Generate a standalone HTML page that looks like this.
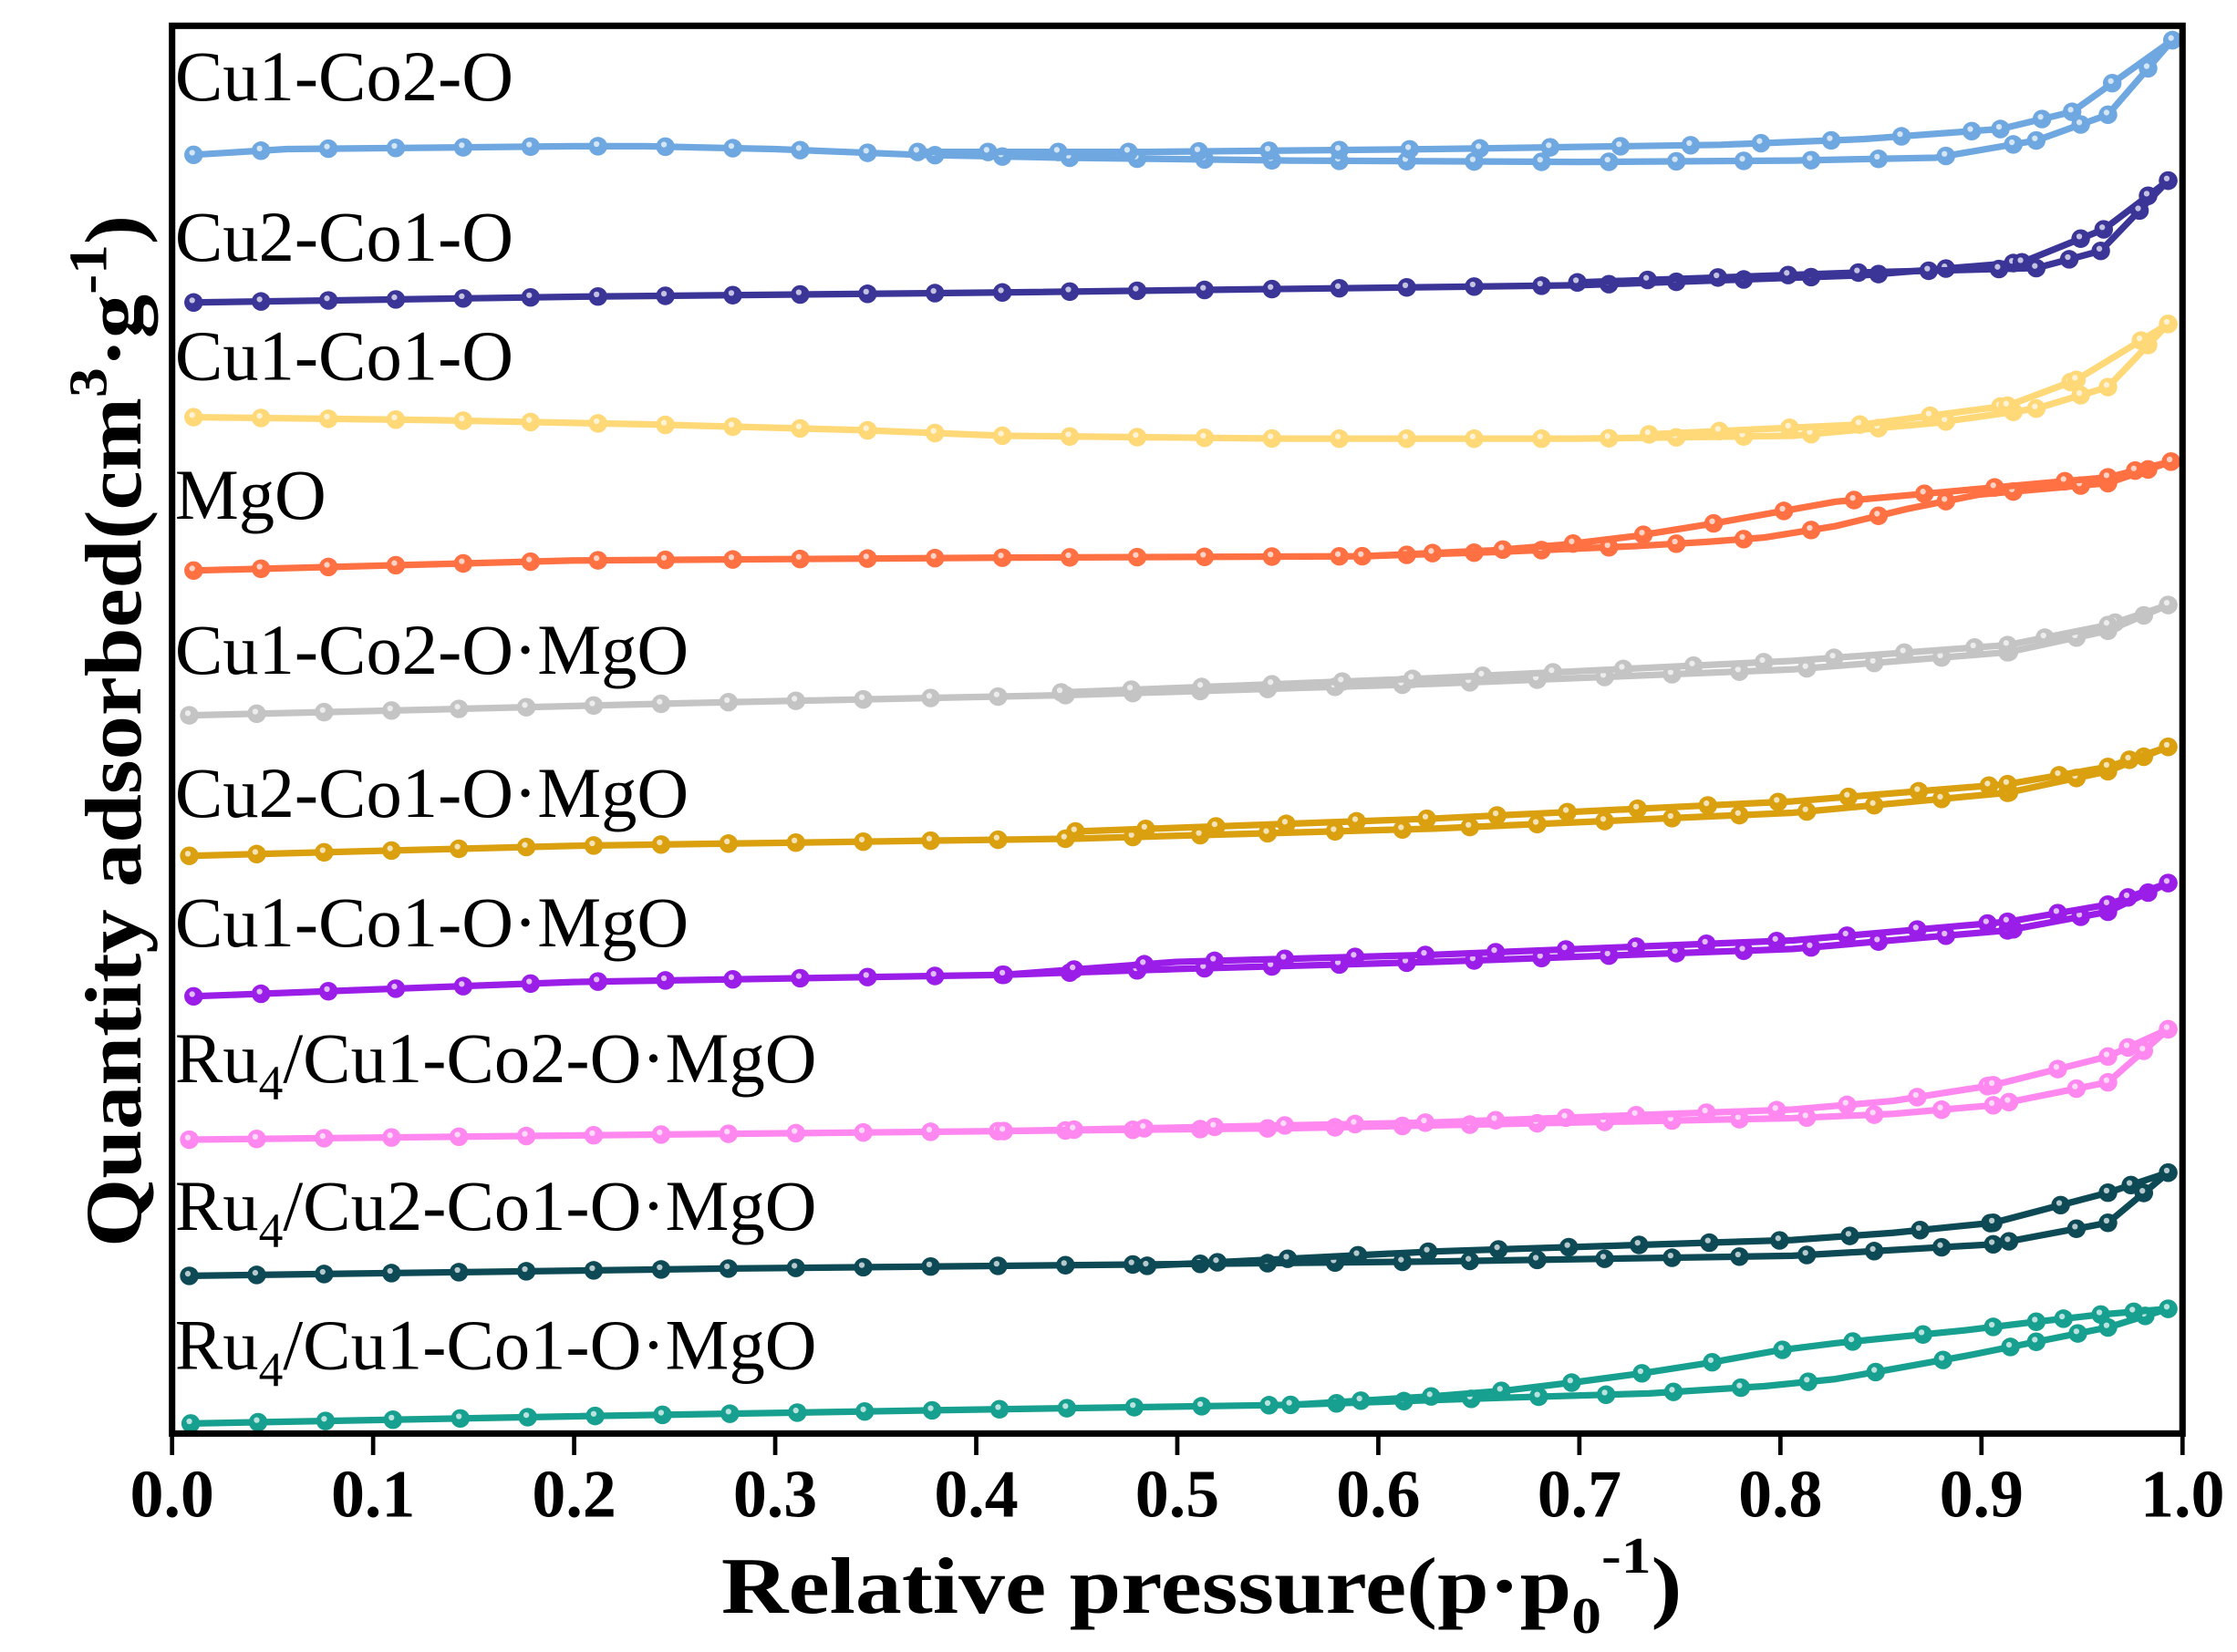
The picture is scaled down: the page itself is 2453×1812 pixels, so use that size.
<!DOCTYPE html>
<html><head><meta charset="utf-8">
<style>
html,body{margin:0;padding:0;background:#fff;}
svg{display:block;}
.lab{font-family:"Liberation Serif",serif;font-size:50px;fill:#000;}
.tick{font-family:"Liberation Serif",serif;font-size:47px;font-weight:bold;fill:#000;}
.ttl{font-family:"Liberation Serif",serif;font-size:56px;font-weight:bold;fill:#000;}
</style></head>
<body>
<svg id="s" width="2453" height="1812" viewBox="0 0 1560 1152.4" preserveAspectRatio="none" xmlns="http://www.w3.org/2000/svg">
<rect x="0" y="0" width="1560" height="1153" fill="#fff"/>
<g id="series"></g>
<rect x="120" y="18" width="1402" height="982" fill="none" stroke="#000" stroke-width="4.5"/>
<g stroke="#000" stroke-width="3">
<line x1="120" y1="1000" x2="120" y2="1015"/><line x1="260.2" y1="1000" x2="260.2" y2="1015"/><line x1="400.4" y1="1000" x2="400.4" y2="1015"/><line x1="540.6" y1="1000" x2="540.6" y2="1015"/><line x1="680.8" y1="1000" x2="680.8" y2="1015"/><line x1="821" y1="1000" x2="821" y2="1015"/><line x1="961.2" y1="1000" x2="961.2" y2="1015"/><line x1="1101.4" y1="1000" x2="1101.4" y2="1015"/><line x1="1241.6" y1="1000" x2="1241.6" y2="1015"/><line x1="1381.8" y1="1000" x2="1381.8" y2="1015"/><line x1="1522" y1="1000" x2="1522" y2="1015"/>
</g>
<g class="tick" text-anchor="middle">
<text x="120" y="1058">0.0</text><text x="260.2" y="1058">0.1</text><text x="400.4" y="1058">0.2</text><text x="540.6" y="1058">0.3</text><text x="680.8" y="1058">0.4</text><text x="821" y="1058">0.5</text><text x="961.2" y="1058">0.6</text><text x="1101.4" y="1058">0.7</text><text x="1241.6" y="1058">0.8</text><text x="1381.8" y="1058">0.9</text><text x="1522" y="1058">1.0</text>
</g>
<text class="ttl" x="503" y="1125" textLength="670" lengthAdjust="spacingAndGlyphs">Relative pressure(p·p<tspan font-size="36" dy="14">0</tspan><tspan font-size="36" dy="-42">-1</tspan><tspan dy="28">)</tspan></text>
<text class="ttl" transform="translate(98,870) rotate(-90)" x="0" y="0" textLength="720" lengthAdjust="spacingAndGlyphs">Quantity adsorbed(cm<tspan font-size="38" dy="-24">3</tspan><tspan dy="24">·g</tspan><tspan font-size="38" dy="-24">-1</tspan><tspan dy="24">)</tspan></text>
<g class="lab">
<text x="122" y="70">Cu1-Co2-O</text>
<text x="122" y="182">Cu2-Co1-O</text>
<text x="122" y="265">Cu1-Co1-O</text>
<text x="122" y="362">MgO</text>
<text x="122" y="470">Cu1-Co2-O·MgO</text>
<text x="122" y="570">Cu2-Co1-O·MgO</text>
<text x="122" y="660">Cu1-Co1-O·MgO</text>
<text x="122" y="755">Ru<tspan font-size="34" dy="12">4</tspan><tspan dy="-12">/Cu1-Co2-O·MgO</tspan></text>
<text x="122" y="858">Ru<tspan font-size="34" dy="12">4</tspan><tspan dy="-12">/Cu2-Co1-O·MgO</tspan></text>
<text x="122" y="955">Ru<tspan font-size="34" dy="12">4</tspan><tspan dy="-12">/Cu1-Co1-O·MgO</tspan></text>
</g>
</svg>
<script>
var S=[
["#6fa8e0",[[135,108],[200,104],[300,103],[400,102],[450,102],[540,104],[640,108],[740,110],[900,112],[1100,113],[1250,112],[1350,110],[1420,98],[1470,80],[1515,28]],[[1515,28],[1445,78],[1395,90],[1300,97],[1200,101],[1000,104],[800,106],[640,106]]],
["#3b3597",[[135,211],[400,207],[700,204],[1100,199],[1300,192],[1410,183],[1467,160],[1512,126]],[[1512,126],[1465,175],[1420,187],[1300,190],[1100,197]]],
["#ffd878",[[135,291],[300,293],[450,296],[600,300],[700,304],[900,306],[1100,306],[1250,304],[1350,295],[1420,285],[1470,270],[1512,226]],[[1512,226],[1448,265],[1400,283],[1300,296],[1150,303]]],
["#ff7043",[[135,398],[400,391],[700,389],[950,388],[1045,385],[1140,381],[1190,378],[1230,375],[1280,367],[1330,355],[1380,345],[1470,337],[1514,322]],[[1514,322],[1470,333],[1380,341],[1280,350],[1190,366],[1140,374],[1090,380],[1040,384],[950,388]]],
["#c4c4c4",[[132,499],[300,495],[500,490],[740,485],[1000,477],[1250,467],[1400,455],[1470,440],[1512,422]],[[1512,422],[1470,436],[1400,450],[1250,461],[1000,473],[740,483]]],
["#daa010",[[132,597],[400,590],[750,585],[1000,578],[1250,567],[1400,553],[1470,538],[1512,521]],[[1512,521],[1470,535],[1400,547],[1250,559],[1000,571],[750,580]]],
["#9b1ee8",[[135,695],[400,685],[700,680],[820,676],[1000,671],[1250,662],[1400,649],[1470,636],[1512,616]],[[1512,616],[1470,631],[1400,643],[1250,656],[1000,666],[820,671],[700,680]]],
["#ff88f0",[[132,795],[500,791],[900,787],[1250,780],[1320,777],[1390,771],[1470,755],[1512,718]],[[1512,718],[1470,737],[1390,757],[1320,768],[1250,774],[1000,783],[700,789]]],
["#0d4a55",[[132,890],[500,885],[1000,880],[1250,876],[1390,868],[1470,853],[1512,818]],[[1512,818],[1470,832],[1390,853],[1320,860],[1250,865],[1000,873],[800,883]]],
["#17a08f",[[133,993],[400,988],[700,983],[900,980],[1050,975],[1150,972],[1230,967],[1280,962],[1320,955],[1370,946],[1420,936],[1470,926],[1512,913]],[[1512,913],[1465,917],[1420,922],[1370,928],[1320,933],[1280,937],[1240,942],[1190,951],[1145,958],[1100,964],[1050,970],[1000,974],[900,980]]]
];
var g=document.getElementById('series'),h="";
function interp(pts,x){for(var i=0;i<pts.length-1;i++){var a=pts[i],b=pts[i+1];var lo=Math.min(a[0],b[0]),hi=Math.max(a[0],b[0]);if(x>=lo&&x<=hi){var t=(hi==lo)?0:(x-a[0])/(b[0]-a[0]);return a[1]+t*(b[1]-a[1]);}}return null;}
S.forEach(function(s){
 [s[1],s[2]].forEach(function(p,k){
  h+='<polyline fill="none" stroke="'+s[0]+'" stroke-width="4.6" stroke-linejoin="round" points="'+p.map(function(q){return q.join(',')}).join(' ')+'"/>';
  var xs=[];var x0=Math.min(p[0][0],p[p.length-1][0]),x1=Math.max(p[0][0],p[p.length-1][0]);
  for(var x=x0;x<=x1;x+=47+k*2)xs.push(x);
  p.forEach(function(q){if(q[0]>1380)xs.push(q[0]);});
  xs.forEach(function(x){var y=interp(p,x);if(y==null)return;
   h+='<circle cx="'+x+'" cy="'+y+'" r="6.5" fill="'+s[0]+'"/><circle cx="'+(x-1)+'" cy="'+(y-1.5)+'" r="2" fill="#fff" opacity="0.7"/>';});
 });
});
g.innerHTML=h;
</script>
</body></html>
